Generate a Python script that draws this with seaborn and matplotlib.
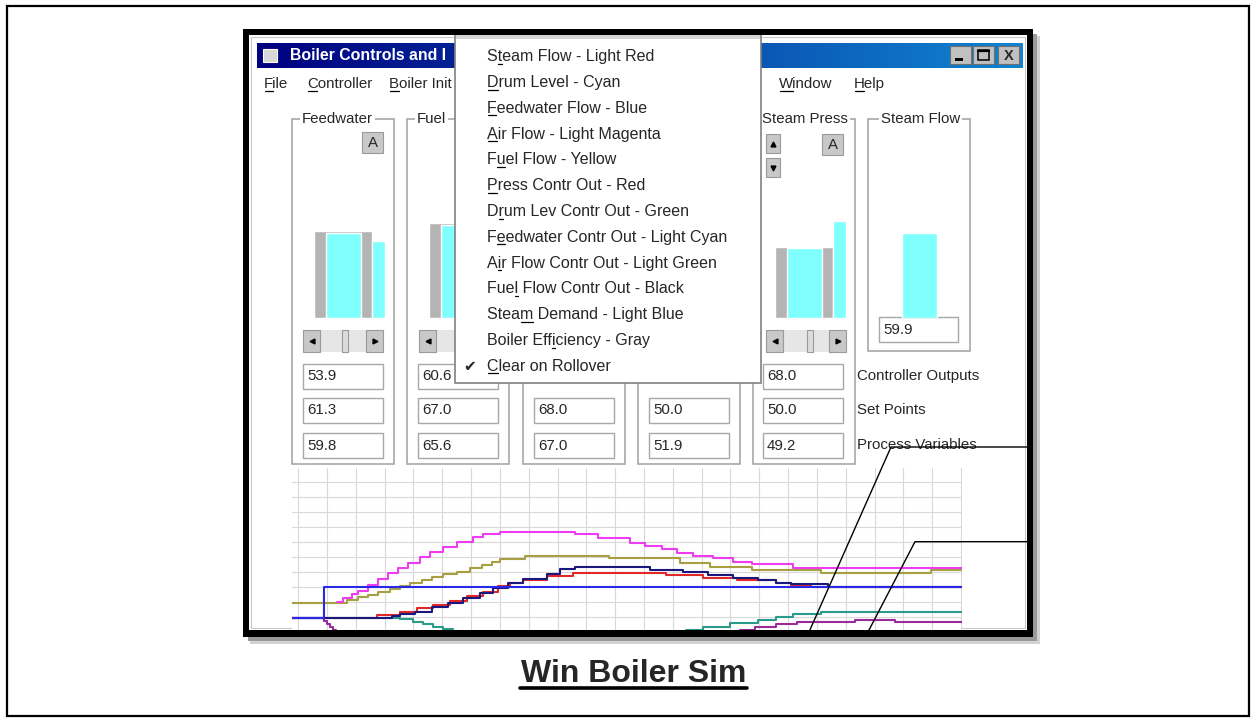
import numpy as np
import pandas as pd
import matplotlib
matplotlib.use("Agg")
import matplotlib.pyplot as plt
import seaborn as sns
from matplotlib.patches import Rectangle
from matplotlib.colors import LinearSegmentedColormap

sns.set_style("white")
plt.rcParams['font.family'] = ['Liberation Sans', 'DejaVu Sans']

# ---------------- data ----------------
menu_items = ['Steam Flow - Light Red', 'Drum Level - Cyan', 'Feedwater Flow - Blue',
              'Air Flow - Light Magenta', 'Fuel Flow - Yellow', 'Press Contr Out - Red',
              'Drum Lev Contr Out - Green', 'Feedwater Contr Out - Light Cyan',
              'Air Flow Contr Out - Light Green', 'Fuel Flow Contr Out - Black',
              'Steam Demand - Light Blue', 'Boiler Efficiency - Gray', 'Clear on Rollover']
menu_hotkeys = [1, 0, 0, 0, 1, 0, 1, 1, 1, 3, 4, 10, 0]

panel_titles = ['Feedwater', 'Fuel', '', '', 'Steam Press']
ctrl_outputs = [53.9, 60.6, None, None, 68.0]
set_points = [61.3, 67.0, 68.0, 50.0, 50.0]
process_vars = [59.8, 65.6, 67.0, 51.9, 49.2]
steam_flow = 59.9
row_labels = ['Controller Outputs', 'Set Points', 'Process Variables']

# trend recorder traces (time step, value)
press_out_t = [-2.1, 27.5, 35.4, 41.1, 46.9, 52.7, 58.5, 64.2, 69.4, 73.5, 78.1, 86.2, 95.4,
               127.8, 140.4, 152.1, 165.9, 171.1, 178.0, 230.3]
press_out_v = [9.1, 11.3, 13.6, 15.8, 18.0, 20.9, 24.0, 26.9, 30.7, 32.4, 34.7, 37.3, 39.5,
               38.0, 36.2, 34.7, 32.9, 31.3, 30.2, 30.2]
fw_flow_t = [-2.1, 32.5, 35.4, 40.6, 46.3, 52.1, 57.3, 63.1, 67.7, 72.9, 78.1, 86.2, 91.0,
             96.0, 122.0, 133.4, 142.1, 150.8, 159.4, 165.9, 171.1, 183.7, 230.3]
fw_flow_v = [9.1, 10.7, 12.3, 13.6, 16.4, 19.6, 22.4, 25.8, 29.1, 32.4, 35.3, 38.7, 41.8,
             43.1, 41.3, 39.8, 38.0, 36.2, 34.5, 32.9, 31.8, 30.2, 30.2]
air_flow_t = [13.4, 15.7, 18.6, 20.9, 24.4, 27.8, 31.3, 34.8, 38.2, 42.3, 45.8, 50.4, 55.0,
              60.8, 64.2, 70.0, 96.0, 103.9, 115.1, 120.3, 126.1, 131.3, 136.9, 143.8,
              150.8, 157.3, 171.7, 230.3]
air_flow_v = [20.2, 22.4, 25.3, 27.6, 31.3, 35.1, 39.1, 42.4, 46.2, 49.8, 53.1, 56.9, 60.2,
              63.6, 65.3, 66.9, 65.1, 62.7, 59.3, 57.3, 55.3, 52.9, 50.9, 49.3,
              46.9, 45.1, 42.9, 42.9]
fuel_flow_t = [-2.1, 16.9, 20.9, 24.4, 27.8, 31.9, 35.4, 38.8, 42.9, 46.3, 50.4, 55.0, 59.6,
               63.7, 67.1, 70.0, 78.7, 108.0, 132.4, 142.8, 157.3, 181.5, 219.7, 230.3]
fuel_flow_v = [19.1, 21.3, 23.1, 24.7, 26.4, 28.4, 30.7, 32.4, 34.7, 36.4, 38.4, 40.2, 42.9,
               44.7, 46.9, 48.7, 50.9, 49.1, 45.8, 43.6, 41.3, 39.6, 41.3, 41.3]
drum_out_t = [-2.1, 35.4, 40.0, 43.4, 46.9, 50.4, 53.8, 60.0, 128.0, 134.7, 140.4, 149.7,
              159.4, 165.9, 171.7, 181.5, 230.3]
drum_out_v = [9.1, 8.4, 6.4, 5.1, 3.6, 2.0, 0.2, -8.0, -8.0, 1.3, 3.5, 5.8,
              8.0, 10.2, 12.0, 13.5, 13.5]
fw_out_t = [-2.1, 9.0, 10.0, 11.0, 12.0, 13.0, 145.0, 153.2, 158.4, 165.9, 172.9, 193.1,
            206.9, 230.3]
fw_out_v = [9.1, 7.0, 5.0, 3.0, 1.0, -8.0, -8.0, 1.3, 3.1, 5.1, 6.9, 8.0, 6.9, 6.9]
demand_t = [-2.1, 9.1, 230.3]
demand_v = [9.1, 30.2, 30.2]

trace_colors = {'drum_out': '#2a9a8a', 'fw_out': '#9a2a9a', 'fuel': '#a8a040',
                'air': '#f03cf0', 'press': '#e02828', 'fw_flow': '#18187e',
                'demand': '#2828e6'}

# ---------------- figure ----------------
W, H = 1255, 722
fig = plt.figure(figsize=(W / 100, H / 100), dpi=100)


def frac(x0, y0, x1, y1):
    return [x0 / W, 1 - y1 / H, (x1 - x0) / W, (y1 - y0) / H]


def pix_axes(z):
    a = fig.add_axes([0, 0, 1, 1])
    a.set_xlim(0, W)
    a.set_ylim(H, 0)
    a.axis('off')
    a.patch.set_visible(False)
    a.set_zorder(z)
    return a


def rect(ax, x0, y0, x1, y1, **kw):
    ax.add_patch(Rectangle((x0, y0), x1 - x0, y1 - y0, **kw))


bg = pix_axes(0)
ov = pix_axes(5)
renderer = fig.canvas.get_renderer()
UI = 10.8


def underline(ax, x, y, s, idx, size, weight='normal', color='k'):
    w = []
    for part in (s[:idx], s[:idx + 1]):
        if part == '':
            w.append(0)
            continue
        t = ax.text(x, y, part, fontsize=size, fontweight=weight)
        w.append(t.get_window_extent(renderer).width)
        t.remove()
    ax.plot([x + w[0] + 0.5, x + w[1] - 0.5], [y + 7, y + 7], color=color, lw=0.9)


# page border and screenshot shadow
rect(bg, 7, 6, 1249, 716, fill=False, ec='black', lw=1.6)
rect(bg, 250, 36, 1040, 644, fc='#d2d2d2', ec='none')
rect(bg, 248, 34, 1037, 641, fc='#9a9a9a', ec='none')
rect(bg, 243, 29, 1033, 637, fc='white', ec='none')
rect(bg, 251, 37, 1025, 628, fill=False, ec='#c8c8c8', lw=0.8)

# title bar with gradient
tb = LinearSegmentedColormap.from_list('tb', ['#000080', '#1084d0'])
bg.imshow(np.linspace(0, 1, 256)[None, :], cmap=tb, extent=(257, 1023, 68, 43),
          aspect='auto', zorder=1)
rect(bg, 263, 49, 277, 62, fc='#d8d8d8', ec='white', lw=0.8, zorder=2)
bg.text(290, 56, 'Boiler Controls and I', color='white', fontsize=11.4,
        fontweight='bold', va='center', zorder=2)
for bx in (950, 973, 998):
    rect(bg, bx, 46, bx + 21, 64, fc='#c0c0c0', ec='#707070', lw=0.8, zorder=2)
rect(bg, 955, 58, 963, 60.5, fc='black', ec='none', zorder=3)
rect(bg, 978, 50, 989, 60, fill=False, ec='black', lw=1.1, zorder=3)
bg.plot([978, 989], [50.6, 50.6], color='black', lw=1.6, zorder=3)
bg.text(1008.5, 55.5, 'X', fontsize=10.5, fontweight='bold', ha='center', va='center',
        zorder=3)

# menu bar
for mx, lab in [(264, 'File'), (307, 'Controller'), (389, 'Boiler Init'),
                (779, 'Window'), (854, 'Help')]:
    bg.text(mx, 84, lab, fontsize=UI, va='center')
    underline(bg, mx, 84, lab, 0, UI)

# group boxes
box_x = [292, 407, 523, 638, 753]
for i, x0 in enumerate(box_x):
    rect(bg, x0, 119, x0 + 102, 464, fill=False, ec='#a0a0a0', lw=1.1)
    if panel_titles[i]:
        bg.text(x0 + (10 if i < 4 else 9), 119, panel_titles[i], fontsize=UI, va='center',
                bbox=dict(fc='white', ec='none', pad=1.5))
rect(bg, 868, 119, 970, 351, fill=False, ec='#a0a0a0', lw=1.1)
bg.text(881, 119, 'Steam Flow', fontsize=UI, va='center',
        bbox=dict(fc='white', ec='none', pad=1.5))

# small buttons
for x0, y0 in [(362, 132), (822, 134)]:
    rect(bg, x0, y0, x0 + 21, y0 + 21, fc='#c8c8c8', ec='#9a9a9a', lw=0.8)
    bg.text(x0 + 10.5, y0 + 11, 'A', fontsize=UI, ha='center', va='center')
for y0, mk in [(134, '^'), (158, 'v')]:
    rect(bg, 766, y0, 780, y0 + 19, fc='#c8c8c8', ec='#9a9a9a', lw=0.8)
    bg.plot(773, y0 + 9.5, marker=mk, ms=3.5, color='black')

# scrollbars
for x0, thumb in [(303, 342), (419, None), (766, 807)]:
    rect(bg, x0, 330, x0 + 80, 352, fc='#e6e6e6', ec='none')
    rect(bg, x0, 330, x0 + 17, 352, fc='#c8c8c8', ec='#9a9a9a', lw=0.8)
    bg.plot(x0 + 8.5, 341, marker='<', ms=3.5, color='black')
    rect(bg, x0 + 63, 330, x0 + 80, 352, fc='#c8c8c8', ec='#9a9a9a', lw=0.8)
    bg.plot(x0 + 71.5, 341, marker='>', ms=3.5, color='black')
    if thumb:
        rect(bg, thumb, 330, thumb + 6, 352, fc='#dcdcdc', ec='#9a9a9a', lw=0.8)

# value text boxes
col_x = [303, 418, 534, 649, 763]
row_y = [364, 398, 433]
for i, x0 in enumerate(col_x):
    for r, vals in enumerate([ctrl_outputs, set_points, process_vars]):
        if vals[i] is None:
            continue
        y0 = row_y[r]
        rect(bg, x0, y0, x0 + 80, y0 + 25, fc='white', ec='#a8a8a8', lw=1.0)
        bg.text(x0 + 4, y0 + 12.5, f'{vals[i]:.1f}', fontsize=UI, va='center')
rect(bg, 879, 317, 958, 342, fc='white', ec='#a8a8a8', lw=1.0, zorder=3)
bg.text(883, 329.5, f'{steam_flow:.1f}', fontsize=UI, va='center', zorder=4)
for r, lab in enumerate(row_labels):
    bg.text(857, row_y[r] + 12, lab, fontsize=UI, va='center')

# level bars inside each panel (0..100 % mapped onto the panel)
for i, x0 in enumerate(box_x):
    ax = fig.add_axes(frac(x0, 176, x0 + 102, 318))
    ax.set_zorder(2)
    ax.axis('off')
    ax.patch.set_visible(False)
    ax.set_xlim(0, 102)
    ax.set_ylim(0, 100)
    ax.bar(51, set_points[i], width=58, color='#b4b4b4')
    ax.bar(51.5, process_vars[i], width=35, color='#80ffff')
    if ctrl_outputs[i] is not None:
        ax.bar(86.5, ctrl_outputs[i], width=13, color='#80ffff')
ax = fig.add_axes(frac(868, 176, 970, 318))
ax.set_zorder(2)
ax.axis('off')
ax.patch.set_visible(False)
ax.set_xlim(0, 102)
ax.set_ylim(0, 100)
ax.bar(51.5, steam_flow, width=35, color='#80ffff')

# trend recorder
series = [('drum_out', drum_out_t, drum_out_v), ('fw_out', fw_out_t, fw_out_v),
          ('fuel', fuel_flow_t, fuel_flow_v), ('air', air_flow_t, air_flow_v),
          ('press', press_out_t, press_out_v), ('fw_flow', fw_flow_t, fw_flow_v),
          ('demand', demand_t, demand_v)]
df = pd.concat([pd.DataFrame({'t': t, 'v': v, 'trace': n}) for n, t, v in series],
               ignore_index=True)
ch = fig.add_axes(frac(292, 468, 962, 632))
ch.set_zorder(2)
sns.lineplot(data=df, x='t', y='v', hue='trace', hue_order=[s[0] for s in series],
             palette=trace_colors, estimator=None, drawstyle='steps-post',
             linewidth=1.5, legend=False, ax=ch)
ch.set_xlim(-2.1, 230.3)
ch.set_ylim(0, 109.3)
ch.set_xticks(np.arange(0, 231, 10))
ch.set_yticks(np.arange(10, 101, 10))
ch.grid(True, color='#d8d8d8', lw=0.8)
ch.set_axisbelow(True)
ch.tick_params(length=0, labelbottom=False, labelleft=False)
ch.set_xlabel('')
ch.set_ylabel('')
for s in ch.spines.values():
    s.set_visible(False)

# drop-down menu on top
rect(ov, 455, 35, 761, 383, fc='white', ec='#808080', lw=1.2)
rect(ov, 456, 35, 760, 39, fc='#d4d4d4', ec='none')
for i, item in enumerate(menu_items):
    y = 56.7 + 25.8 * i
    ov.text(487, y, item, fontsize=11.5, va='center')
    underline(ov, 487, y, item, menu_hotkeys[i], 11.5)
ov.text(470, 366.7, '\u2714', fontsize=11, ha='center', va='center',
        family=['DejaVu Sans'])

# callout lines
ov.plot([1027, 891, 809], [447, 447, 632], color='black', lw=1.0)
ov.plot([1027, 915, 868], [541.7, 541.7, 632], color='black', lw=1.0)

# black screenshot frame
for r in [(243, 29, 1033, 35), (243, 29, 249, 637), (1027, 29, 1033, 637),
          (243, 630, 1033, 637)]:
    rect(ov, *r, fc='black', ec='none')

# caption
bg.text(633.5, 682, 'Win Boiler Sim', fontsize=23, fontweight='bold', ha='center',
        va='baseline')
bg.plot([520, 747], [687.5, 687.5], color='black', lw=2.6)

fig.savefig('out.png', dpi=100)
